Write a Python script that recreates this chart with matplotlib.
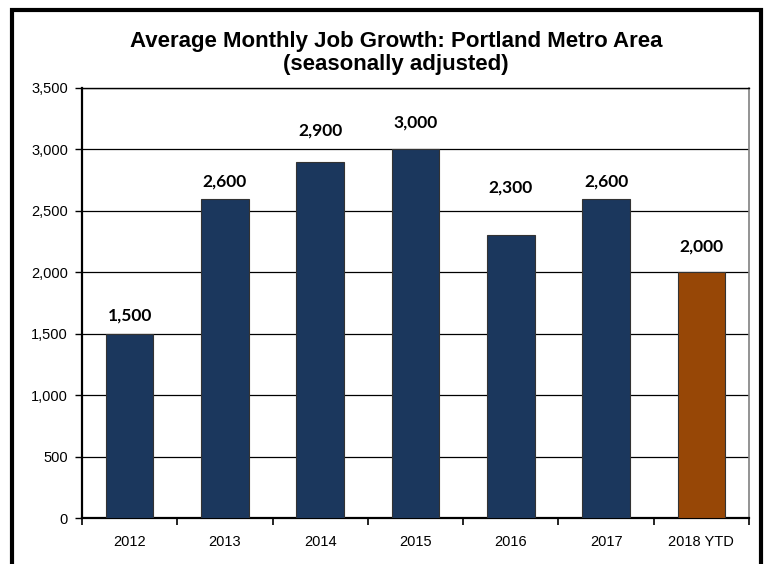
import matplotlib
matplotlib.use("Agg")
import matplotlib.pyplot as plt
from matplotlib.patches import Rectangle
from matplotlib.ticker import FuncFormatter, FixedLocator

categories = ["2012", "2013", "2014", "2015", "2016", "2017", "2018 YTD"]
values = [1500, 2600, 2900, 3000, 2300, 2600, 2000]
colors = ["#1b375d"] * 6 + ["#974706"]
# vertical offset of each value label above its bar (data units), as placed in the original
label_offsets = [145, 135, 258, 215, 394, 135, 206]

fig = plt.figure(figsize=(7.72, 5.64), dpi=100)
ax = fig.add_axes([82/772, 46/564, 667/772, 430/564])

x = list(range(len(categories)))
ax.bar(x, values, width=0.5, color=colors, edgecolor="#333333", linewidth=0.8, zorder=3)

for xi, v, off in zip(x, values, label_offsets):
    ax.text(xi, v + off, f"{v:,}", ha="center", va="center", fontsize=12.5,
            fontweight="bold", family=["Lato", "DejaVu Sans"], color="black")

ax.set_xlim(-0.5, len(categories) - 0.5)
ax.set_ylim(0, 3500)
ax.set_yticks(range(0, 3501, 500))
ax.yaxis.set_major_formatter(FuncFormatter(lambda v, p: f"{int(v):,}"))
ax.set_xticks(x)
ax.set_xticklabels(categories)
ax.xaxis.set_minor_locator(FixedLocator([i - 0.5 for i in range(len(categories) + 1)]))
ax.tick_params(axis="x", which="major", length=0, pad=12, labelsize=10.5)
ax.tick_params(axis="x", which="minor", length=5, width=1.2, direction="out", color="black")
ax.tick_params(axis="y", length=5, width=1.0, pad=5, labelsize=10.5)
for lbl in ax.get_xticklabels() + ax.get_yticklabels():
    lbl.set_family(["Liberation Sans", "DejaVu Sans"])

ax.grid(axis="y", color="black", linewidth=0.9, zorder=0)
ax.set_axisbelow(True)
for s in ["left", "bottom"]:
    ax.spines[s].set_linewidth(1.6)
    ax.spines[s].set_color("black")
ax.spines["right"].set_color("#808080")
ax.spines["right"].set_linewidth(1.2)
ax.spines["top"].set_color("black")
ax.spines["top"].set_linewidth(1.0)

fig.text(396/772, 1 - 53/564, "Average Monthly Job Growth: Portland Metro Area\n(seasonally adjusted)",
         ha="center", va="center", fontsize=16, fontweight="bold",
         family=["Liberation Sans", "DejaVu Sans"], linespacing=1.12)

frame = Rectangle((11.5/772, -0.05), (761 - 11.5)/772, (1 - 9.5/564) + 0.05,
                  transform=fig.transFigure, fill=False, edgecolor="black", linewidth=3)
fig.patches.append(frame)

fig.savefig("out.png", dpi=100)
